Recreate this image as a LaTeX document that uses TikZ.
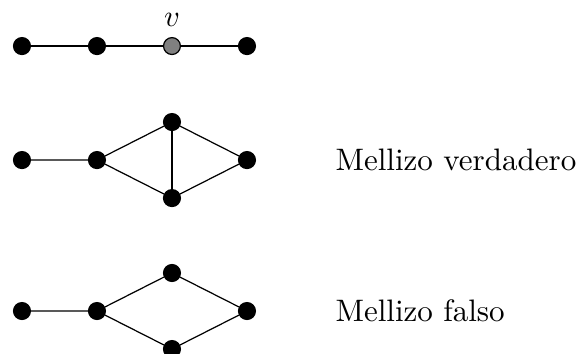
\documentclass[tikz,border=0pt]{standalone}
\usepackage{tikz}
\usetikzlibrary{positioning}
\tikzset{
  vert/.style={circle,draw=black,fill=#1,inner sep=0pt,minimum size=1.95mm},
  vert/.default=black,
  edge/.style={draw=black,line width=0.4pt},
  tag/.style={anchor=west,inner sep=0pt,font=\fontsize{10.2}{12}\selectfont},
}

\begin{document}
\begin{tikzpicture}[x=0.866cm,y=0.866cm]
  \useasboundingbox (-0.293,-0.56) rectangle (7.387,4.147);
  % path with v
  \node[vert] (a1) at (0,3.533) {};
  \node[vert] (a2) at (1,3.533) {};
  \node[vert=gray] (a3) at (2,3.533) {};
  \node[vert] (a4) at (3,3.533) {};
  \node at (2,3.88) {$v$};
  \draw[edge] (a1) -- (a2) -- (a3) -- (a4);
  % true twin
  \node[vert] (b1) at (0,2.013) {};
  \node[vert] (b2) at (1,2.013) {};
  \node[vert] (b3) at (2,2.52) {};
  \node[vert] (b4) at (2,1.506) {};
  \node[vert] (b5) at (3,2.013) {};
  \draw[edge] (b1) -- (b2) -- (b3) -- (b5) -- (b4) -- (b2);
  \draw[edge] (b3) -- (b4);
  \node[tag] (t1) at (4.173,2.013) {Mellizo verdadero};
  % false twin
  \node[vert] (c1) at (0,0) {};
  \node[vert] (c2) at (1,0) {};
  \node[vert] (c3) at (2,0.507) {};
  \node[vert] (c4) at (2,-0.507) {};
  \node[vert] (c5) at (3,0) {};
  \draw[edge] (c1) -- (c2) -- (c3) -- (c5) -- (c4) -- (c2);
  \node[tag] (t2) at (4.173,0) {Mellizo falso};
\end{tikzpicture}
\end{document}
